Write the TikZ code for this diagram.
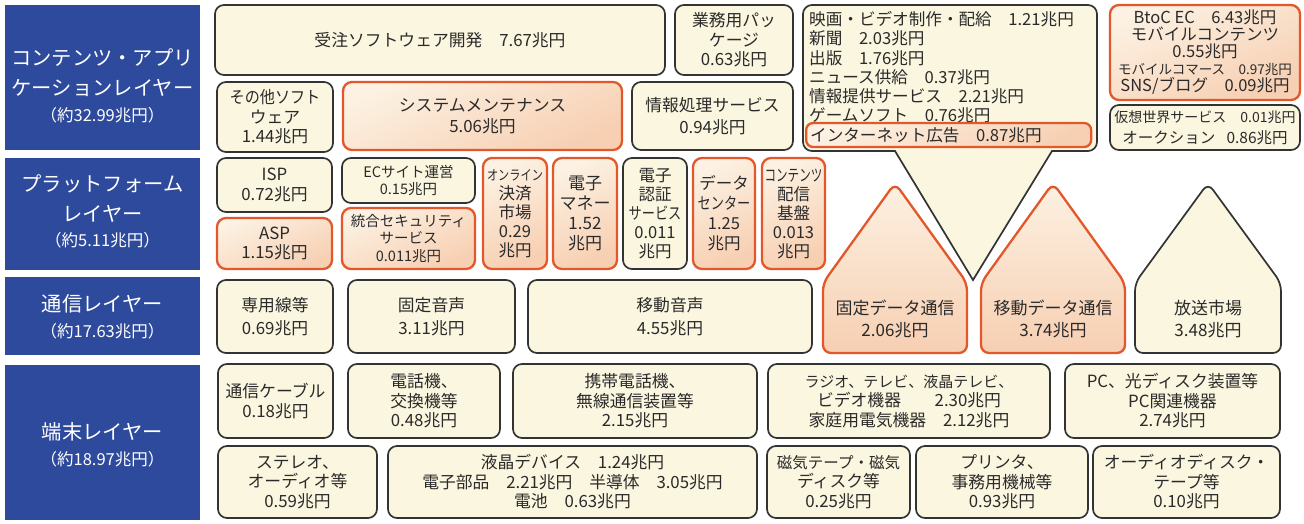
\documentclass[tikz,border=0pt]{standalone}
\usepackage{fontspec}
\setmainfont{Noto Sans CJK JP}
\usepackage{graphicx}
\definecolor{cream}{HTML}{FBF6DF}
\definecolor{oL}{HTML}{FCF1E2}
\definecolor{oD}{HTML}{F7CFB2}
\definecolor{oline}{HTML}{E2582A}
\definecolor{dline}{HTML}{333333}
\definecolor{txt}{HTML}{2A2A2A}
\definecolor{lblue}{HTML}{2E4A9C}
\newcommand{\nar}[2]{\scalebox{#1}[1]{#2}}
\newcommand{\fs}[2]{\fontsize{#1}{#2}\selectfont}
\newcommand{\bx}[7]{\node[#2, minimum width={(#5)-(#3)}, minimum height={(#6)-(#4)}] (#1) at ({((#3)+(#5))/2},{((#4)+(#6))/2}) {#7};}
\tikzset{
  base/.style={rounded corners=9pt, line width=1.7pt, inner sep=0pt, align=center, text=txt, font=\fs{16.8}{19.5}},
  cbox/.style={base, draw=dline, fill=cream},
  obox/.style={base, draw=oline, line width=2.3pt, top color=oL, bottom color=oD, shading angle=25},
  lbox/.style={fill=lblue, inner sep=0pt},
  ltext/.style={text=white, align=center, inner sep=0pt, font=\fs{20.3}{30}},
  ctext/.style={text=txt, inner sep=0pt, anchor=west, font=\fs{16.6}{19}},
  pent/.style={line width=1.7pt, draw=dline, fill=cream, rounded corners=8pt},
  opent/.style={line width=2.3pt, draw=oline, top color=oL, bottom color=oD, rounded corners=8pt},
}
\begin{document}
\begin{tikzpicture}[x=1pt,y=-1pt]
\useasboundingbox (0,0) rectangle (1304,523);
% ---- layer labels
\bx{L1}{lbox}{5}{5}{200}{150}{}
\bx{L2}{lbox}{5}{158}{200}{270}{}
\bx{L3}{lbox}{5}{277}{200}{355}{}
\bx{L4}{lbox}{5}{365}{200}{520}{}
\node[ltext] (L1t) at (102.5,86) {コンテンツ・アプリ\\ケーションレイヤー\\[-4pt]{\fs{16.5}{20}（約32.99兆円）}};
\node[ltext] (L2t) at (102.5,211) {プラットフォーム\\レイヤー\\[-5pt]{\fs{16.5}{20}（約5.11兆円）}};
\node[ltext] (L3t) at (102.5,317) {通信レイヤー\\[-4pt]{\fs{16.5}{20}（約17.63兆円）}};
\node[ltext] (L4t) at (102.5,445) {端末レイヤー\\[-4pt]{\fs{16.5}{20}（約18.97兆円）}};
% ---- layer 1
\bx{jutaku}{cbox}{215}{5}{665}{75}{受注ソフトウェア開発　7.67兆円}
\bx{gyomu}{cbox}{675}{5}{793}{75}{業務用パッ\\ケージ\\0.63兆円}
\bx{sonota}{cbox}{217}{82}{333}{152}{\nar{0.9}{その他ソフト}\\ウェア\\1.44兆円}
\bx{sysmnt}{obox}{343}{82}{622}{150}{システムメンテナンス\\[2pt]5.06兆円}
\bx{joho}{cbox}{632}{82}{793}{150}{情報処理サービス\\[2pt]0.94兆円}
% callout
\draw[line width=1.7pt, draw=dline, fill=cream] (973,280) -- (895,151) [rounded corners=9pt] -- (803,151) -- (803,5) -- (1097,5) -- (1097,151) [sharp corners] -- (1052,151) -- cycle;
\node[ctext] (m1) at (809,19) {映画・ビデオ制作・配給　1.21兆円};
\node[ctext] (m2) at (809,38.5) {新聞　2.03兆円};
\node[ctext] (m3) at (809,58) {出版　1.76兆円};
\node[ctext] (m4) at (809,77) {ニュース供給　0.37兆円};
\node[ctext] (m5) at (809,96) {情報提供サービス　2.21兆円};
\node[ctext] (m6) at (809,115) {ゲームソフト　0.76兆円};
\node[obox, rounded corners=7pt, minimum width=285, minimum height=24, anchor=west, text width=277, align=left, font=\fs{16.6}{19}] (inet) at (805,135) {インターネット広告　0.87兆円};
\bx{btoc}{obox, font=\fs{16.5}{17}}{1110}{5}{1300}{100}{BtoC EC　6.43兆円\\モバイルコンテンツ\\0.55兆円\\{\fs{13.5}{17}モバイルコマース　0.97兆円}\\SNS/ブログ　0.09兆円}
\bx{kaso}{cbox, font=\fs{15.5}{21}}{1110}{105}{1300}{150}{{\fs{14}{21}仮想世界サービス　0.01兆円}\\オークション\enspace\ 0.86兆円}
% ---- layer 2
\bx{isp}{cbox}{217}{158}{332}{212}{ISP\\0.72兆円}
\bx{asp}{obox}{217}{218}{332}{269}{ASP\\1.15兆円}
\bx{ec}{cbox, font=\fs{14.5}{17.5}}{342}{158}{475}{203}{ECサイト運営\\0.15兆円}
\bx{sec}{obox, font=\fs{14.5}{17.5}}{342}{208}{475}{269}{統合セキュリティ\\サービス\\0.011兆円}
\bx{online}{obox, font=\fs{16.5}{19}}{483}{158}{547}{269}{\nar{0.8}{\fs{14}{19}オンライン}\\決済\\市場\\0.29\\兆円}
\bx{emoney}{obox, font=\fs{17}{20}}{553}{158}{617}{269}{電子\\マネー\\1.52\\兆円}
\bx{ninsho}{cbox, font=\fs{16.5}{19}}{623}{158}{687}{269}{電子\\認証\\\nar{0.8}{サービス}\\0.011\\兆円}
\bx{dc}{obox, font=\fs{16.5}{20}}{693}{158}{755}{269}{データ\\\nar{0.8}{センター}\\1.25\\兆円}
\bx{cdn}{obox, font=\fs{16.5}{19}}{762}{158}{825}{269}{\nar{0.7}{コンテンツ}\\配信\\基盤\\0.013\\兆円}
% ---- layer 3
\bx{senyo}{cbox}{217}{280}{333}{353}{専用線等\\[3pt]0.69兆円}
\bx{koteion}{cbox}{348}{280}{515}{353}{固定音声\\[3pt]3.11兆円}
\bx{idoon}{cbox}{528}{280}{812}{353}{移動音声\\[3pt]4.55兆円}
\path[opent] (895,183) -- (967,283) -- (967,353) -- (823,353) -- (823,283) -- cycle;
\path[opent] (1053,183) -- (1125,283) -- (1125,353) -- (981,353) -- (981,283) -- cycle;
\path[pent] (1208,183) -- (1281,283) -- (1281,353) -- (1135,353) -- (1135,283) -- cycle;
\node[base, font=\fs{17}{22}] (koteid) at (895,319) {固定データ通信\\2.06兆円};
\node[base, font=\fs{17}{22}] (idod) at (1053,319) {移動データ通信\\3.74兆円};
\node[base, font=\fs{17}{22}] (hoso) at (1208,319) {放送市場\\3.48兆円};
% ---- layer 4
\bx{cable}{cbox}{218}{364}{333}{438}{通信ケーブル\\0.18兆円}
\bx{denwa}{cbox}{348}{364}{500}{438}{電話機、\\交換機等\\0.48兆円}
\bx{keitai}{cbox}{513}{364}{757}{438}{携帯電話機、\\無線通信装置等\\2.15兆円}
\bx{radio}{cbox}{768}{364}{1050}{438}{{\fs{15}{19.5}ラジオ、テレビ、液晶テレビ、}\\ビデオ機器　　2.30兆円\\家庭用電気機器　2.12兆円}
\bx{pc}{cbox}{1065}{364}{1280}{438}{PC、光ディスク装置等\\PC関連機器\\2.74兆円}
\bx{stereo}{cbox}{218}{446}{377}{518}{ステレオ、\\オーディオ等\\0.59兆円}
\bx{ekisho}{cbox}{388}{446}{757}{518}{液晶デバイス　1.24兆円\\電子部品　2.21兆円　半導体　3.05兆円\\電池　0.63兆円}
\bx{jiki}{cbox}{767}{446}{910}{518}{{\fs{15.5}{19.5}磁気テープ・磁気}\\ディスク等\\0.25兆円}
\bx{printer}{cbox}{916}{446}{1088}{518}{プリンタ、\\事務用機械等\\0.93兆円}
\bx{audio}{cbox}{1093}{446}{1280}{518}{オーディオディスク・\\テープ等\\0.10兆円}
\end{tikzpicture}
\end{document}
